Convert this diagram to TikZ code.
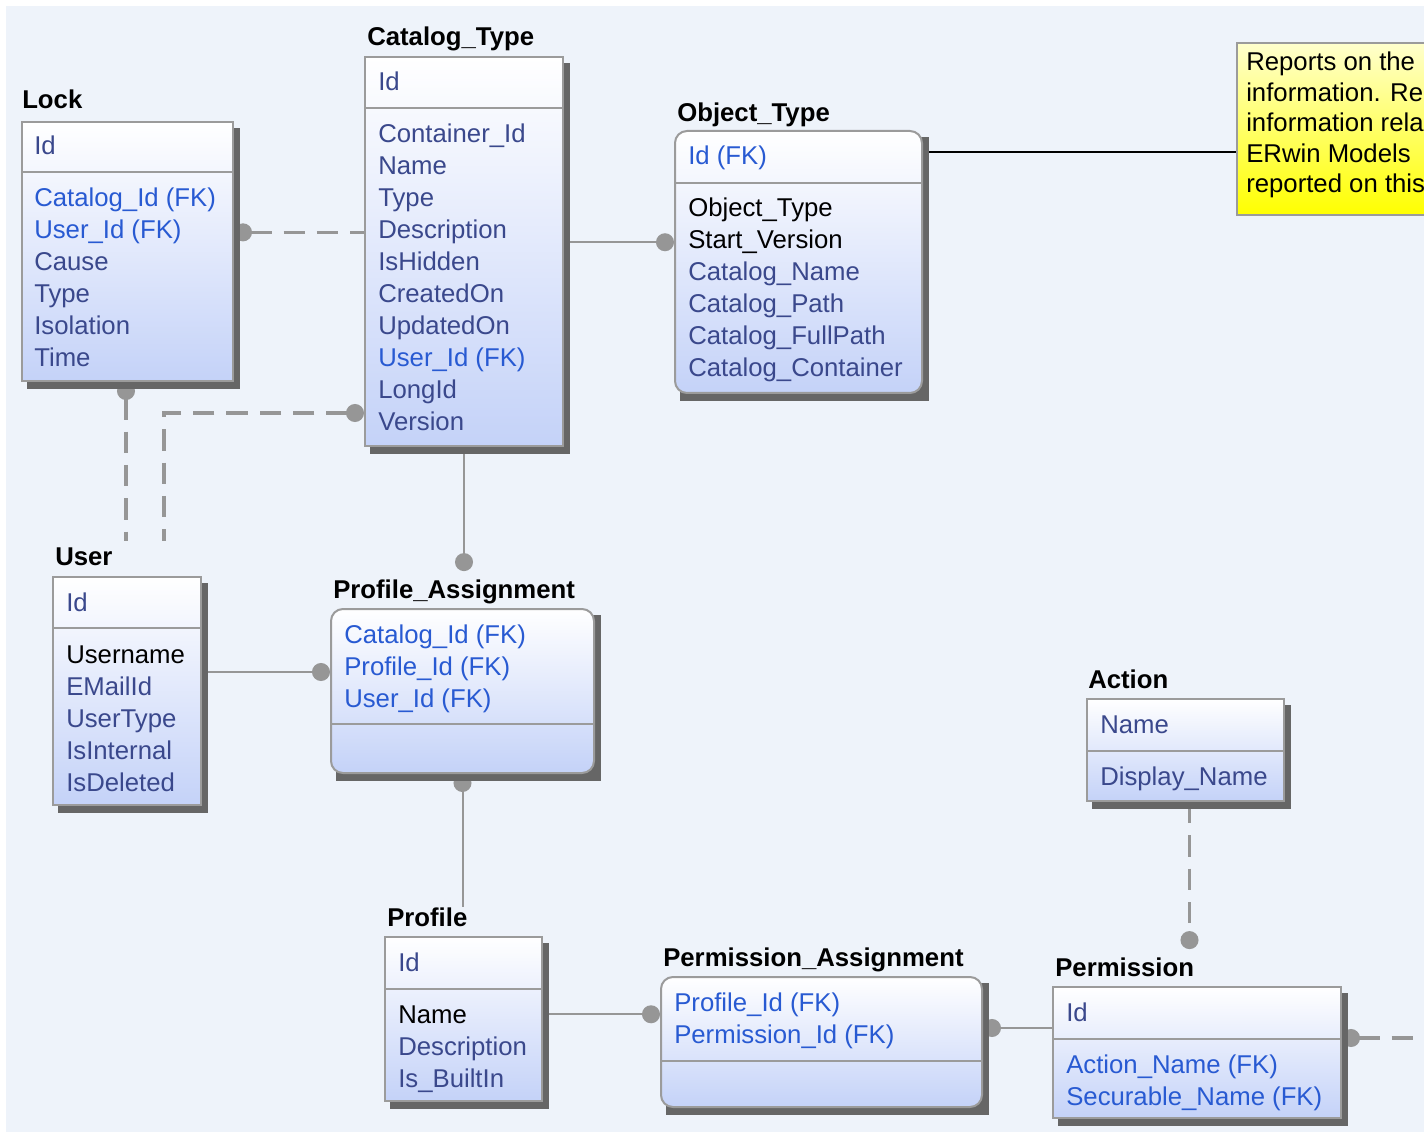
\documentclass[tikz,border=0pt]{standalone}
\usepackage{fontspec}
\setmainfont{Liberation Sans}
\usetikzlibrary{fit,calc,arrows.meta}
\pgfdeclarelayer{bg}
\pgfdeclarelayer{links}
\pgfdeclarelayer{shadows}
\pgfsetlayers{bg,links,shadows,main}
\definecolor{paper}{RGB}{238,243,250}
\definecolor{fk}{RGB}{40,90,210}
\definecolor{attr}{RGB}{58,72,140}
\definecolor{entblue}{RGB}{196,210,248}
\definecolor{edge}{RGB}{155,155,155}
\definecolor{relgray}{RGB}{150,150,150}
\definecolor{notetop}{RGB}{255,255,205}
\definecolor{notebot}{RGB}{255,255,0}

\begin{document}
\begin{tikzpicture}
		[x=0.75pt,y=-0.75pt,
		ttl/.style={anchor=base west,inner sep=0pt,font=\bfseries\fontsize{19.3}{23}\selectfont},
		fld/.style={anchor=base west,inner sep=0pt,font=\fontsize{19.3}{23}\selectfont},
		ent/.style={draw=edge,line width=1.5pt,top color=white,bottom color=entblue,inner sep=0pt},
		rent/.style={ent,rounded corners=9pt},
		note/.style={draw=edge,line width=1.5pt,top color=notetop,bottom color=notebot,inner sep=0pt},
		shd/.style={fill=black!60},
		sep/.style={draw=edge,line width=1.5pt},
		rel/.style={draw=relgray,line width=1.5pt},
		nrel/.style={rel,line width=2.6pt,dash pattern=on 16pt off 9pt},
		dot/.tip={Circle[length=13.5pt,width=13.5pt]}]
		\useasboundingbox (0,0) rectangle (1424,1137);
		\begin{pgfonlayer}{bg}
			\fill[white] (0,0) rectangle (1424,1137);
			\fill[paper] (6,6) rectangle (1424,1132);
		\end{pgfonlayer}

		% Lock
		\node[ttl] (lockT) at (22,109) {Lock};
		\node[ent,fit={(22,122) (233,381)}] (lock) {};
		\draw[sep] (22,172) -- (233,172);
		\node[fld,text=attr] (lock0) at (34,155) {Id};
		\foreach \t/\c [count=\i] in {Catalog\_Id (FK)/fk, User\_Id (FK)/fk, Cause/attr, Type/attr, Isolation/attr, Time/attr}
			\node[fld,text=\c] (lock\i) at (34,{175+32*\i}) {\t};

		% Catalog_Type
		\node[ttl] (ctT) at (367,46) {Catalog\_Type};
		\node[ent,fit={(365,57) (563,446)}] (ct) {};
		\draw[sep] (365,108) -- (563,108);
		\node[fld,text=attr] (ct0) at (378,91) {Id};
		\foreach \t/\c [count=\i] in {Container\_Id/attr, Name/attr, Type/attr, Description/attr, IsHidden/attr, CreatedOn/attr, UpdatedOn/attr, User\_Id (FK)/fk, LongId/attr, Version/attr}
			\node[fld,text=\c] (ct\i) at (378,{111+32*\i}) {\t};

		% Object_Type
		\node[ttl] (otT) at (677,122) {Object\_Type};
		\node[rent,fit={(675,131) (922,393)}] (ot) {};
		\draw[sep] (675,183) -- (922,183);
		\node[fld,text=fk] (ot0) at (688,165) {Id (FK)};
		\foreach \t/\c [count=\i] in {Object\_Type/black, Start\_Version/black, Catalog\_Name/attr, Catalog\_Path/attr, Catalog\_FullPath/attr, Catalog\_Container/attr}
			\node[fld,text=\c] (ot\i) at (688,{185+32*\i}) {\t};

		% User
		\node[ttl] (userT) at (55,565) {User};
		\node[ent,fit={(53,577) (201,805)}] (user) {};
		\draw[sep] (53,628) -- (201,628);
		\node[fld,text=attr] (user0) at (66,611) {Id};
		\foreach \t/\c [count=\i] in {Username/black, EMailId/attr, UserType/attr, IsInternal/attr, IsDeleted/attr}
			\node[fld,text=\c] (user\i) at (66,{631+32*\i}) {\t};

		% Profile_Assignment
		\node[ttl] (paT) at (333,598) {Profile\_Assignment};
		\node[rent,fit={(331,609) (594,773)}] (pa) {};
		\draw[sep] (331,724) -- (594,724);
		\foreach \t [count=\i] in {Catalog\_Id (FK), Profile\_Id (FK), User\_Id (FK)}
			\node[fld,text=fk] (pa\i) at (344,{611+32*\i}) {\t};

		% Action
		\node[ttl] (actT) at (1088,688) {Action};
		\node[ent,fit={(1087,699) (1284,801)}] (act) {};
		\draw[sep] (1087,751) -- (1284,751);
		\node[fld,text=attr] (act0) at (1100,733) {Name};
		\node[fld,text=attr] (act1) at (1100,785) {Display\_Name};

		% Profile
		\node[ttl] (prT) at (387,926) {Profile};
		\node[ent,fit={(385,937) (542,1101)}] (pr) {};
		\draw[sep] (385,989) -- (542,989);
		\node[fld,text=attr] (pr0) at (398,971) {Id};
		\foreach \t/\c [count=\i] in {Name/black, Description/attr, Is\_BuiltIn/attr}
			\node[fld,text=\c] (pr\i) at (398,{991+32*\i}) {\t};

		% Permission_Assignment
		\node[ttl] (pmaT) at (663,966) {Permission\_Assignment};
		\node[rent,fit={(661,977) (982,1107)}] (pma) {};
		\draw[sep] (661,1061) -- (982,1061);
		\foreach \t [count=\i] in {Profile\_Id (FK), Permission\_Id (FK)}
			\node[fld,text=fk] (pma\i) at (674,{979+32*\i}) {\t};

		% Permission
		\node[ttl] (permT) at (1055,976) {Permission};
		\node[ent,fit={(1053,987) (1341,1118)}] (perm) {};
		\draw[sep] (1053,1039) -- (1341,1039);
		\node[fld,text=attr] (perm0) at (1066,1021) {Id};
		\foreach \t [count=\i] in {Action\_Name (FK), Securable\_Name (FK)}
			\node[fld,text=fk] (perm\i) at (1066,{1041+32*\i}) {\t};

		% note, cut by the window edge
		\begin{scope}
			\clip (1230,36) rectangle (1424,222);
			\node[note,fit={(1237,43) (1440,215)}] (note) {};
			\foreach \t [count=\i] in {Reports on the, information. Re, information rela, ERwin Models, reported on this}
				\node[fld] (note\i) at (1246,{40.5+30.5*\i}) {\t};
		\end{scope}

		\coordinate (ulk) at (126,541);
		\coordinate (ufk) at (164,541);
		\coordinate (ctu) at ($(ct.south west)+(0,-34)$);
		\coordinate (paTop) at ($(paT.north)+(0,-8)$);
		\coordinate (upa) at ($(pa.north west)+(0,64)$);
		\coordinate (pp) at ($(perm.north west)+(0,42)$);
		\coordinate (pmTop) at ($(permT.north)+(0,-8)$);
		\coordinate (otn) at ($(ot.north east)+(0,22)$);
		\coordinate (off) at (1430,1038);

		\begin{pgfonlayer}{links}
			\draw[nrel,dot-] (lock.east |- lock2) -- (ct.west |- lock2);
			\draw[nrel,dot-] (lock.south -| ulk) -- (ulk);
			\draw[nrel,dot-] (ctu) -| (ufk);
			\draw[rel,-dot] (ct.east |- ot2) -- (ot.west |- ot2);
			\draw[rel,-dot] (ct.south) -- (ct.south |- paTop);
			\draw[rel,-dot] (user.east |- upa) -- (pa.west |- upa);
			\draw[rel,dot-] (pa.south) -- (pa.south |- prT.north);
			\draw[rel,-dot] (pr.east |- pr1) -- (pma.west |- pr1);
			\draw[rel,dot-] (pma.east |- pp) -- (perm.west |- pp);
			\draw[nrel,-dot] ($(act.south)+(4,0)$) -- ($(act.south |- pmTop)+(4,0)$);
			\draw[nrel,dot-] (perm.east |- off) -- (off);
			\draw[black,line width=1pt] (ot.east |- otn) -- (note.west |- otn);
		\end{pgfonlayer}

		\begin{pgfonlayer}{shadows}
			\foreach \e in {lock,ct,ot,user,pa,act,pr,pma,perm}
				\fill[shd] ($(\e.north west)+(6,7)$) rectangle ($(\e.south east)+(6,7)$);
		\end{pgfonlayer}
\end{tikzpicture}
\end{document}
